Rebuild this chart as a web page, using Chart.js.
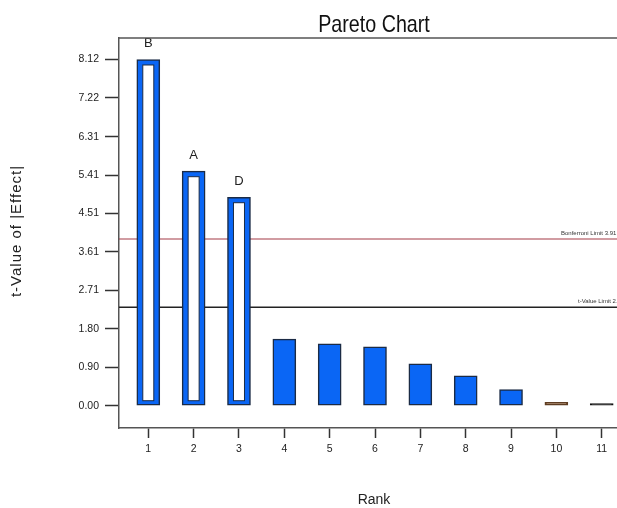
<!DOCTYPE html>
<html>
<head>
<meta charset="utf-8">
<title>Pareto Chart</title>
<script src="https://cdn.jsdelivr.net/npm/chart.js@4/dist/chart.umd.min.js"></script>
<style>
  html, body { margin: 0; padding: 0; background: #ffffff; }
  #wrap { width: 617px; height: 508px; }
</style>
</head>
<body>
<div id="wrap"><canvas id="pareto" width="617" height="508"></canvas></div>
<script>
// Ranked effects: t-value of |effect| per rank
const ranks = [1, 2, 3, 4, 5, 6, 7, 8, 9, 10, 11];
const tValues = [8.12, 5.50, 4.89, 1.56, 1.45, 1.38, 0.98, 0.70, 0.38, 0.08, 0.05];
const effectNames = ['B', 'A', 'D', '', '', '', '', '', '', '', ''];
const isHollow = [true, true, true, false, false, false, false, false, false, false, false];
const barColors = ['#0a66f5', '#0a66f5', '#0a66f5', '#0a66f5', '#0a66f5', '#0a66f5', '#0a66f5', '#0a66f5', '#0a66f5', '#8a5a32', '#111111'];
const barEdges = ['#1b2b45', '#1b2b45', '#1b2b45', '#1b2b45', '#1b2b45', '#1b2b45', '#1b2b45', '#1b2b45', '#1b2b45', '#5e3d22', '#111111'];

// Significance thresholds
const bonferroniLimit = 3.91;
const tValueLimit = 2.31;

// Axis ticks
const yTickValues = [0.00, 0.90, 1.80, 2.71, 3.61, 4.51, 5.41, 6.31, 7.22, 8.12];
const yTickLabels = ['0.00', '0.90', '1.80', '2.71', '3.61', '4.51', '5.41', '6.31', '7.22', '8.12'];

const sans = '"Liberation Sans", Arial, sans-serif';

const paretoDecor = {
  id: 'paretoDecor',
  beforeDatasetsDraw(chart) {
    const { ctx, chartArea, scales } = chart;
    const yB = scales.y.getPixelForValue(bonferroniLimit);
    const yT = scales.y.getPixelForValue(tValueLimit);
    ctx.save();
    ctx.beginPath();
    ctx.strokeStyle = '#a33a46';
    ctx.lineWidth = 1.2;
    ctx.moveTo(chartArea.left, yB);
    ctx.lineTo(chartArea.right, yB);
    ctx.stroke();
    ctx.beginPath();
    ctx.strokeStyle = '#222222';
    ctx.lineWidth = 1.5;
    ctx.moveTo(chartArea.left, yT);
    ctx.lineTo(chartArea.right, yT);
    ctx.stroke();
    ctx.fillStyle = '#333333';
    ctx.font = '6px ' + sans;
    ctx.textAlign = 'left';
    ctx.textBaseline = 'alphabetic';
    ctx.fillText('Bonferroni Limit ' + bonferroniLimit.toFixed(2), 561, yB - 4);
    ctx.fillText('t-Value Limit ' + tValueLimit.toFixed(2), 578, yT - 4);
    ctx.restore();
  },
  afterDatasetsDraw(chart) {
    const { ctx } = chart;
    const meta = chart.getDatasetMeta(0);
    ctx.save();
    meta.data.forEach((bar, i) => {
      const { x, y, base, width } = bar.getProps(['x', 'y', 'base', 'width'], true);
      if (isHollow[i]) {
        const ix = x - width / 2 + 6;
        const iy = y + 5.5;
        const iw = width - 12;
        const ih = base - y - 10;
        ctx.fillStyle = '#ffffff';
        ctx.fillRect(ix, iy, iw, ih);
        ctx.strokeStyle = '#1b2b45';
        ctx.lineWidth = 1;
        ctx.strokeRect(ix, iy, iw, ih);
      }
      if (effectNames[i]) {
        ctx.fillStyle = '#222222';
        ctx.font = '13px ' + sans;
        ctx.textAlign = 'center';
        ctx.textBaseline = 'middle';
        ctx.fillText(effectNames[i], x, y - 16);
      }
    });
    ctx.restore();
  },
  afterDraw(chart) {
    const { ctx, chartArea } = chart;
    ctx.save();
    // frame line along the top of the plot
    ctx.beginPath();
    ctx.strokeStyle = '#555555';
    ctx.lineWidth = 1.5;
    ctx.moveTo(chartArea.left, chartArea.top);
    ctx.lineTo(chartArea.right, chartArea.top);
    ctx.stroke();
    // chart title, condensed
    ctx.fillStyle = '#111111';
    ctx.font = '24px ' + sans;
    ctx.textAlign = 'center';
    ctx.textBaseline = 'alphabetic';
    ctx.save();
    ctx.translate(374, 32);
    ctx.scale(0.82, 1);
    ctx.fillText('Pareto Chart', 0, 0);
    ctx.restore();
    // axis titles
    ctx.fillStyle = '#222222';
    ctx.font = '14px ' + sans;
    ctx.textBaseline = 'middle';
    ctx.fillText('Rank', 374, 500);
    ctx.save();
    ctx.translate(17, 231);
    ctx.rotate(-Math.PI / 2);
    ctx.font = '15px ' + sans;
    ctx.letterSpacing = '1px';
    ctx.fillText('t-Value of |Effect|', 0, 0);
    ctx.restore();
    ctx.restore();
  }
};

new Chart(document.getElementById('pareto'), {
  type: 'bar',
  data: {
    datasets: [{
      data: ranks.map((r, i) => ({ x: r, y: tValues[i] })),
      backgroundColor: barColors,
      borderColor: barEdges,
      borderWidth: 1.5,
      borderSkipped: false,
      barThickness: 23
    }]
  },
  options: {
    responsive: false,
    animation: false,
    devicePixelRatio: 1,
    layout: { padding: { top: 38, left: 0, right: 0, bottom: 0 } },
    plugins: {
      legend: { display: false },
      tooltip: { enabled: false },
      title: { display: false }
    },
    scales: {
      x: {
        type: 'linear',
        offset: false,
        min: 0.354,
        max: 11.337,
        afterBuildTicks(scale) { scale.ticks = ranks.map(v => ({ value: v })); },
        afterFit(scale) { scale.height = 80; },
        grid: { offset: false, drawOnChartArea: false, drawTicks: true, tickLength: 10, tickColor: '#333333', tickWidth: 1.5 },
        border: { display: true, color: '#555555', width: 1.5 },
        ticks: {
          color: '#222222',
          padding: 5,
          font: { family: sans, size: 10.5 },
          callback: v => String(v)
        }
      },
      y: {
        min: -0.523,
        max: 8.624,
        afterBuildTicks(scale) { scale.ticks = yTickValues.map(v => ({ value: v })); },
        afterFit(scale) { scale.width = 119; },
        grid: { drawOnChartArea: false, drawTicks: true, tickLength: 14, tickColor: '#333333', tickWidth: 1.5 },
        border: { display: true, color: '#555555', width: 1.5 },
        ticks: {
          color: '#222222',
          padding: 6,
          font: { family: sans, size: 10.5 },
          callback: (v) => {
            const k = yTickValues.indexOf(v);
            return k >= 0 ? yTickLabels[k] : '';
          }
        }
      }
    }
  },
  plugins: [paretoDecor]
});
</script>
</body>
</html>
